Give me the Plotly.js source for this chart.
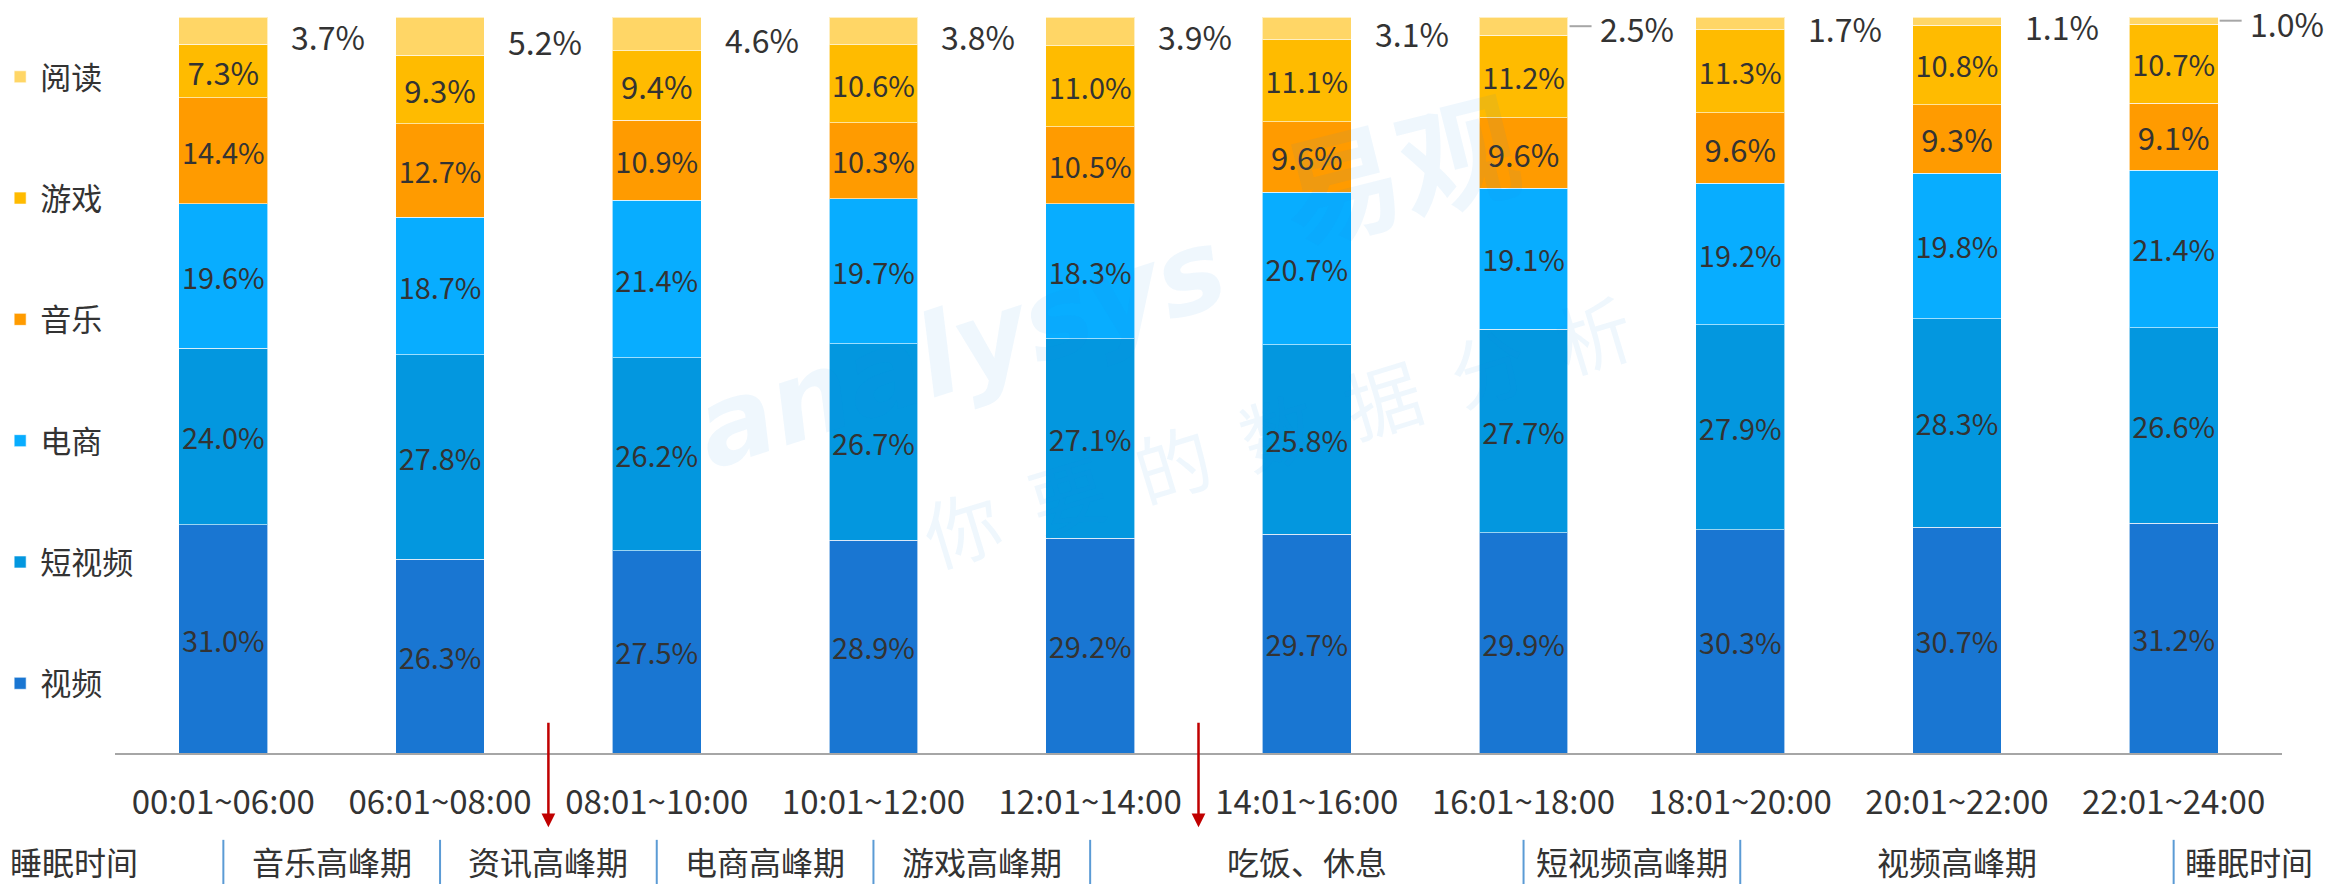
<!DOCTYPE html>
<html>
<head>
<meta charset="utf-8">
<script src="https://cdn.plot.ly/plotly-3.0.1.min.js"></script>
<style>html,body{margin:0;padding:0;background:#fff;}#chart{width:2328px;height:885px;}</style>
</head>
<body>
<div id="chart"></div>
<script>
// ---- data ----
var categories = ["00:01~06:00","06:01~08:00","08:01~10:00","10:01~12:00","12:01~14:00","14:01~16:00","16:01~18:00","18:01~20:00","20:01~22:00","22:01~24:00"];
var seriesNames = ["视频","短视频","电商","音乐","游戏","阅读"];
var video      = [31.0, 26.3, 27.5, 28.9, 29.2, 29.7, 29.9, 30.3, 30.7, 31.2];
var shortVideo = [24.0, 27.8, 26.2, 26.7, 27.1, 25.8, 27.7, 27.9, 28.3, 26.6];
var ecommerce  = [19.6, 18.7, 21.4, 19.7, 18.3, 20.7, 19.1, 19.2, 19.8, 21.4];
var music      = [14.4, 12.7, 10.9, 10.3, 10.5, 9.6, 9.6, 9.6, 9.3, 9.1];
var game       = [7.3, 9.3, 9.4, 10.6, 11.0, 11.1, 11.2, 11.3, 10.8, 10.7];
var reading    = [3.7, 5.2, 4.6, 3.8, 3.9, 3.1, 2.5, 1.7, 1.1, 1.0];
var phaseNames   = ["睡眠时间","音乐高峰期","资讯高峰期","电商高峰期","游戏高峰期","吃饭、休息","短视频高峰期","视频高峰期","睡眠时间"];
var phaseCenters = [-0.69, 0.5, 1.5, 2.5, 3.5, 5.0, 6.5, 8.0, 9.35];
var phaseDividers = [0, 1, 2, 3, 4, 6, 7, 9];
var arrowMarks = [1.5, 4.5];

// ---- styles ----
var FONT = '"Noto Sans CJK SC", "Noto Sans", sans-serif';
var colors = ["#1976D2","#0397DF","#08ADFF","#FF9B00","#FFBB00","#FFD666"];
var allSeries = [video, shortVideo, ecommerce, music, game, reading];
var nCat = categories.length;
function catToPaper(c){ return (c + 0.5) / nCat; }

var traces = allSeries.map(function(vals, i){
  var isTop = (i === allSeries.length - 1);
  return {
    type: 'bar',
    name: seriesNames[i],
    x: categories,
    y: vals,
    legendgroup: 'g' + i,
    legendrank: (allSeries.length - i) * 100,
    marker: {color: colors[i], line: {color: 'rgba(255,255,255,0.6)', width: 1}},
    text: isTop ? vals.map(function(){return '';}) : vals.map(function(v){return v.toFixed(1) + '%';}),
    textposition: isTop ? 'none' : 'inside',
    insidetextanchor: 'middle',
    textangle: 0,
    textfont: {family: FONT, size: 31, color: '#333333'},
    hoverinfo: 'x+y+name'
  };
});

// outside labels for top series (阅读)
var annotations = [];
var shapes = [];
var leaderIdx = [6, 9];
reading.forEach(function(v, i){
  var yc = 100 - v / 2;
  var hasLeader = leaderIdx.indexOf(i) >= 0;
  annotations.push({
    x: i, y: yc, xref: 'x', yref: 'y',
    text: v.toFixed(1) + '%', showarrow: false,
    xanchor: 'left', yanchor: 'middle',
    xshift: hasLeader ? 74 : 66, yshift: hasLeader ? -2 : -5,
    font: {family: FONT, size: 32, color: '#333333'}
  });
  if (hasLeader) {
    shapes.push({
      type: 'line', xref: 'x', yref: 'y', xsizemode: 'pixel', ysizemode: 'pixel',
      xanchor: i, yanchor: yc, x0: 46, x1: 68, y0: 0, y1: 0,
      line: {color: '#A6A6A6', width: 2}
    });
  }
});

// phase labels under axis
phaseNames.forEach(function(p, i){
  annotations.push({
    x: catToPaper(phaseCenters[i]), y: -0.147, xref: 'paper', yref: 'paper',
    text: p, showarrow: false, xanchor: 'center', yanchor: 'middle',
    font: {family: FONT, size: 32, color: '#333333'}
  });
});
phaseDividers.forEach(function(d){
  shapes.push({
    type: 'line', xref: 'x', yref: 'paper', x0: d, x1: d, y0: -0.118, y1: -0.178,
    line: {color: '#5B9BD5', width: 2}
  });
});
arrowMarks.forEach(function(a){
  annotations.push({
    x: a, y: -0.101, xref: 'x', yref: 'paper', text: '', showarrow: true,
    ax: 0, ay: -106, axref: 'pixel', ayref: 'pixel',
    arrowhead: 2, arrowsize: 1.1, arrowwidth: 2.5, arrowcolor: '#C00000'
  });
});

// watermark
annotations.push({
  xref: 'paper', yref: 'paper', x: 0.39, y: 0.55, xanchor: 'center', yanchor: 'middle', showarrow: false,
  text: '<i><b>analysys</b></i>', textangle: -18,
  font: {family: '"DejaVu Sans", sans-serif', size: 112, color: 'rgba(30,136,229,0.07)'}
});
annotations.push({
  xref: 'paper', yref: 'paper', x: 0.592, y: 0.80, xanchor: 'center', yanchor: 'middle', showarrow: false,
  text: '<b>易观</b>', textangle: -14,
  font: {family: FONT, size: 120, color: 'rgba(30,136,229,0.07)'}
});
annotations.push({
  xref: 'paper', yref: 'paper', x: 0.536, y: 0.44, xanchor: 'center', yanchor: 'middle', showarrow: false,
  text: '你  要  的  数  据  分  析', textangle: -17,
  font: {family: FONT, size: 76, color: 'rgba(30,136,229,0.07)'}
});

var layout = {
  width: 2328, height: 885,
  margin: {l: 115, r: 46, t: 17, b: 132, autoexpand: false},
  paper_bgcolor: '#ffffff', plot_bgcolor: '#ffffff',
  barmode: 'stack',
  bargap: 0.59,
  showlegend: true,
  legend: {
    x: -0.053, xanchor: 'left', y: 0.955, yanchor: 'top',
    traceorder: 'grouped', tracegroupgap: 78,
    font: {family: FONT, size: 31, color: '#333333'},
    bgcolor: 'rgba(0,0,0,0)', itemwidth: 30
  },
  xaxis: {
    type: 'category',
    range: [-0.5, nCat - 0.5],
    showline: true, linecolor: '#A6A6A6', linewidth: 2,
    showgrid: false, zeroline: false,
    ticks: 'outside', ticklen: 19, tickcolor: 'rgba(0,0,0,0)',
    tickfont: {family: FONT, size: 33, color: '#333333'},
    fixedrange: true
  },
  yaxis: {range: [0, 100], visible: false, fixedrange: true},
  annotations: annotations,
  shapes: shapes,
  font: {family: FONT}
};

Plotly.newPlot('chart', traces, layout, {displayModeBar: false, staticPlot: true});
</script>
</body>
</html>
